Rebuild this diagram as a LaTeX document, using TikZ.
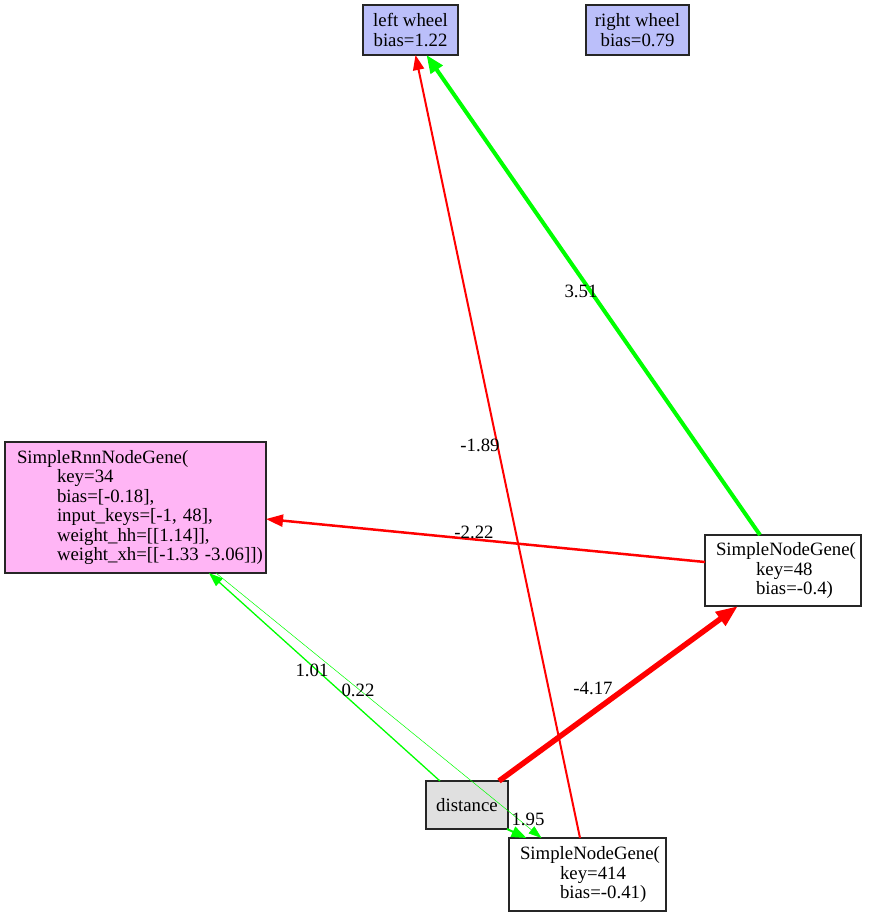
\documentclass[tikz,border=0pt]{standalone}
\usepackage{fontspec}
\setmainfont{Liberation Serif}
\usetikzlibrary{arrows.meta,calc}
\definecolor{outfill}{RGB}{187,191,250}
\definecolor{rnnfill}{RGB}{255,181,245}
\definecolor{infill}{RGB}{224,224,224}
\definecolor{posedge}{RGB}{0,255,0}
\definecolor{negedge}{RGB}{255,0,0}
\begin{document}
\begin{tikzpicture}[x=1pt,y=-1pt,
  every node/.style={font=\fontsize{18.8}{19.4}\selectfont, outer sep=0pt},
  box/.style={draw=black!85, line width=1.1pt, rectangle, inner sep=0pt},
  outbox/.style={box, fill=outfill, align=center},
  genebox/.style={box, fill=white, align=left, inner xsep=11pt, text width=#1},
  lbl/.style={inner sep=0pt},
  wire/.style n args={3}{line width=#1, -{Triangle[length=#2, width=#3]}}
]
\useasboundingbox (0,0) rectangle (868,916);

% output nodes
\node[outbox, minimum width=95pt, minimum height=50pt] (lw) at (410.5,30) {left wheel\\bias=1.22};
\node[outbox, minimum width=103pt, minimum height=50pt] (rw) at (637.5,30) {right wheel\\bias=0.79};

% recurrent node
\node[genebox=237pt, fill=rnnfill, inner xsep=12pt, minimum height=131pt] (n34) at (135.5,507.5)
  {\mbox{SimpleRnnNodeGene(}\\
   \hspace*{40pt}\mbox{key=34}\\
   \hspace*{40pt}\mbox{bias=[-0.18],}\\
   \hspace*{40pt}\mbox{input\_keys=[-1, 48],}\\
   \hspace*{40pt}\mbox{weight\_hh=[[1.14]],}\\
   \hspace*{40pt}\mbox{weight\_xh=[[-1.33 -3.06]])}};

% hidden nodes
\node[genebox=134pt, minimum height=71pt] (n48) at (783,570.5)
  {\mbox{SimpleNodeGene(}\\
   \hspace*{40pt}\mbox{key=48}\\
   \hspace*{40pt}\mbox{bias=-0.4)}};
\node[genebox=135pt, minimum height=73pt] (n414) at (587.5,874.5)
  {\mbox{SimpleNodeGene(}\\
   \hspace*{40pt}\mbox{key=414}\\
   \hspace*{40pt}\mbox{bias=-0.41)}};

% input node
\node[box, fill=infill, minimum width=82pt, minimum height=48pt] (dist) at (467,805) {distance};

% connections
\draw[wire={4pt}{18pt}{14pt}, posedge] ($(n48.north)+(-23,0)$) -- ($(lw.south)+(16,0)$);
\draw[wire={2pt}{15pt}{11pt}, negedge] ($(n414.north)+(-7.5,0)$) -- ($(lw.south)+(5,0)$);
\draw[wire={2.5pt}{17pt}{12pt}, negedge] ($(n48.west)+(0,-8.5)$) -- ($(n34.east)+(0,11.5)$);
\draw[wire={5.5pt}{22pt}{16pt}, negedge] ($(dist.north)+(32,0)$) -- ($(n48.south)+(-45,0)$);
\draw[wire={1.3pt}{14pt}{10pt}, posedge] ($(dist.north)+(-27,0)$) -- ($(n34.south)+(73.5,0)$);
\draw[wire={0.5pt}{13pt}{9pt}, posedge] ($(n34.south)+(80.5,0)$) -- ($(n414.north)+(-46,0)$);
\draw[wire={2pt}{15pt}{11pt}, posedge] ($(dist.south)+(40,0)$) -- ($(n414.north)+(-61,0)$);

% weights
\node[lbl] (w351) at (581,291) {3.51};
\node[lbl] (w189) at (480,445) {-1.89};
\node[lbl] (w222) at (474,532) {-2.22};
\node[lbl] (w417) at (593,688) {-4.17};
\node[lbl] (w101) at (312,670) {1.01};
\node[lbl] (w022) at (358,690) {0.22};
\node[lbl] (w195) at (528,819) {1.95};
\end{tikzpicture}
\end{document}
